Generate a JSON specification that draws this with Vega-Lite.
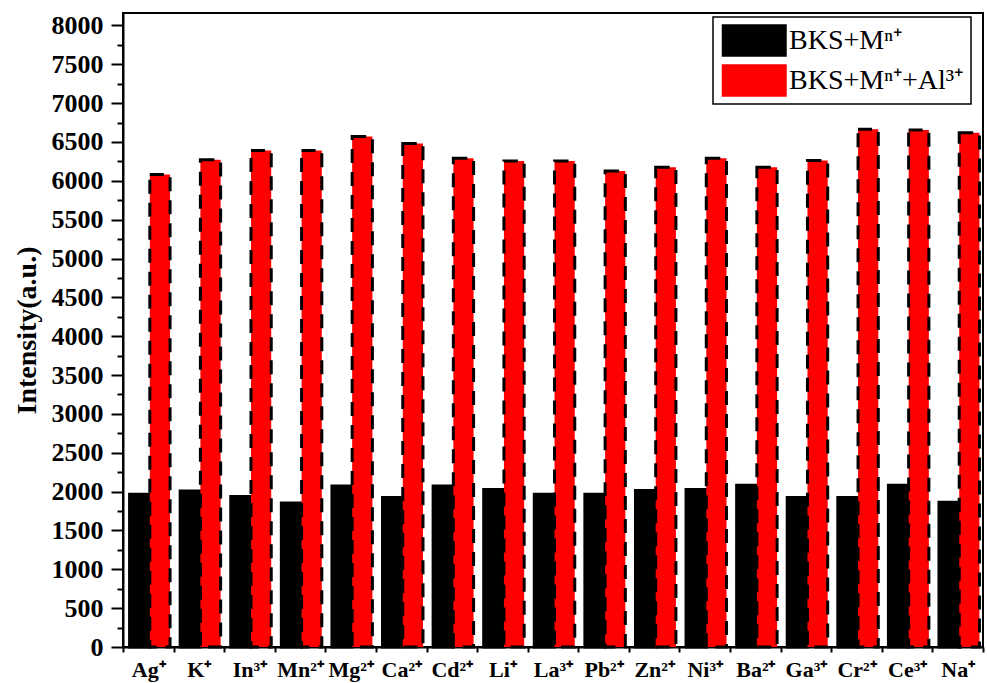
{
  "$schema": "https://vega.github.io/schema/vega-lite/v6.json",
  "autosize": {"type": "none"},
  "padding": {"left": 123, "top": 13, "right": 4, "bottom": 36},
  "width": 860,
  "height": 634,
  "background": "white",
  "config": {
    "font": "Liberation Serif",
    "view": {"stroke": "black", "strokeWidth": 2},
    "axis": {
      "domainColor": "black",
      "domainWidth": 2,
      "tickColor": "black",
      "tickWidth": 2,
      "labelColor": "black",
      "titleColor": "black",
      "labelFont": "Liberation Serif",
      "titleFont": "Liberation Serif",
      "labelFontWeight": "bold",
      "titleFontWeight": "bold",
      "grid": false
    },
    "legend": {
      "orient": "none",
      "legendX": 590,
      "legendY": 4,
      "title": null,
      "padding": 7,
      "strokeColor": "black",
      "strokeWidth": 1.5,
      "fillColor": "white",
      "symbolType": "M-1,-1H3V1H-1Z",
      "symbolSize": 1056,
      "symbolStrokeColor": "black",
      "symbolStrokeWidth": 3,
      "symbolOpacity": 1,
      "clipHeight": 33,
      "labelFont": "Liberation Serif",
      "labelFontSize": 28,
      "labelColor": "black",
      "labelOffset": 33,
      "rowPadding": 7,
      "labelLimit": 400
    }
  },
  "data": {
    "values": [
      {"ion": "Ag⁺", "series": "BKS+Mⁿ⁺", "intensity": 1965},
      {"ion": "K⁺", "series": "BKS+Mⁿ⁺", "intensity": 2008},
      {"ion": "In³⁺", "series": "BKS+Mⁿ⁺", "intensity": 1936},
      {"ion": "Mn²⁺", "series": "BKS+Mⁿ⁺", "intensity": 1853},
      {"ion": "Mg²⁺", "series": "BKS+Mⁿ⁺", "intensity": 2072},
      {"ion": "Ca²⁺", "series": "BKS+Mⁿ⁺", "intensity": 1923},
      {"ion": "Cd²⁺", "series": "BKS+Mⁿ⁺", "intensity": 2072},
      {"ion": "Li⁺", "series": "BKS+Mⁿ⁺", "intensity": 2026},
      {"ion": "La³⁺", "series": "BKS+Mⁿ⁺", "intensity": 1965},
      {"ion": "Pb²⁺", "series": "BKS+Mⁿ⁺", "intensity": 1965},
      {"ion": "Zn²⁺", "series": "BKS+Mⁿ⁺", "intensity": 2013},
      {"ion": "Ni³⁺", "series": "BKS+Mⁿ⁺", "intensity": 2026},
      {"ion": "Ba²⁺", "series": "BKS+Mⁿ⁺", "intensity": 2081},
      {"ion": "Ga³⁺", "series": "BKS+Mⁿ⁺", "intensity": 1923},
      {"ion": "Cr²⁺", "series": "BKS+Mⁿ⁺", "intensity": 1923},
      {"ion": "Ce³⁺", "series": "BKS+Mⁿ⁺", "intensity": 2081},
      {"ion": "Na⁺", "series": "BKS+Mⁿ⁺", "intensity": 1862},
      {"ion": "Ag⁺", "series": "BKS+Mⁿ⁺+Al³⁺", "intensity": 6080},
      {"ion": "K⁺", "series": "BKS+Mⁿ⁺+Al³⁺", "intensity": 6270},
      {"ion": "In³⁺", "series": "BKS+Mⁿ⁺+Al³⁺", "intensity": 6390},
      {"ion": "Mn²⁺", "series": "BKS+Mⁿ⁺+Al³⁺", "intensity": 6390},
      {"ion": "Mg²⁺", "series": "BKS+Mⁿ⁺+Al³⁺", "intensity": 6570},
      {"ion": "Ca²⁺", "series": "BKS+Mⁿ⁺+Al³⁺", "intensity": 6480},
      {"ion": "Cd²⁺", "series": "BKS+Mⁿ⁺+Al³⁺", "intensity": 6290},
      {"ion": "Li⁺", "series": "BKS+Mⁿ⁺+Al³⁺", "intensity": 6255},
      {"ion": "La³⁺", "series": "BKS+Mⁿ⁺+Al³⁺", "intensity": 6255},
      {"ion": "Pb²⁺", "series": "BKS+Mⁿ⁺+Al³⁺", "intensity": 6125},
      {"ion": "Zn²⁺", "series": "BKS+Mⁿ⁺+Al³⁺", "intensity": 6175},
      {"ion": "Ni³⁺", "series": "BKS+Mⁿ⁺+Al³⁺", "intensity": 6290},
      {"ion": "Ba²⁺", "series": "BKS+Mⁿ⁺+Al³⁺", "intensity": 6175},
      {"ion": "Ga³⁺", "series": "BKS+Mⁿ⁺+Al³⁺", "intensity": 6260},
      {"ion": "Cr²⁺", "series": "BKS+Mⁿ⁺+Al³⁺", "intensity": 6665},
      {"ion": "Ce³⁺", "series": "BKS+Mⁿ⁺+Al³⁺", "intensity": 6655},
      {"ion": "Na⁺", "series": "BKS+Mⁿ⁺+Al³⁺", "intensity": 6620}
    ]
  },
  "mark": {"type": "bar", "stroke": "black", "strokeWidth": 3},
  "encoding": {
    "x": {
      "field": "ion",
      "type": "nominal",
      "sort": null,
      "scale": {"paddingInner": 0, "paddingOuter": 0},
      "axis": {
        "title": null,
        "tickBand": "extent",
        "tickSize": 5,
        "labelAngle": 0,
        "labelFontSize": 22,
        "labelPadding": 7
      }
    },
    "xOffset": {
      "field": "series",
      "type": "nominal",
      "sort": ["BKS+Mⁿ⁺", "BKS+Mⁿ⁺+Al³⁺"],
      "scale": {"paddingInner": 0, "paddingOuter": 0.25, "align": 0.65}
    },
    "y": {
      "field": "intensity",
      "type": "quantitative",
      "scale": {"domain": [0, 8160], "nice": false, "zero": true},
      "axis": {
        "title": "Intensity(a.u.)",
        "values": [0, 250, 500, 750, 1000, 1250, 1500, 1750, 2000, 2250, 2500, 2750, 3000, 3250, 3500, 3750, 4000, 4250, 4500, 4750, 5000, 5250, 5500, 5750, 6000, 6250, 6500, 6750, 7000, 7250, 7500, 7750, 8000],
        "format": "d",
        "labelExpr": "datum.value % 500 === 0 ? datum.label : ''",
        "tickSize": {"condition": {"test": "datum.value % 500 === 0", "value": 12}, "value": 6},
        "labelFontSize": 26,
        "labelPadding": 8,
        "titleFontSize": 28,
        "titlePadding": 10
      }
    },
    "fill": {
      "field": "series",
      "type": "nominal",
      "scale": {"domain": ["BKS+Mⁿ⁺", "BKS+Mⁿ⁺+Al³⁺"], "range": ["black", "red"]},
      "legend": {"title": null}
    },
    "strokeDash": {
      "field": "series",
      "type": "nominal",
      "scale": {"domain": ["BKS+Mⁿ⁺", "BKS+Mⁿ⁺+Al³⁺"], "range": [[1, 0], [14, 9]]},
      "legend": {"title": null}
    }
  }
}
